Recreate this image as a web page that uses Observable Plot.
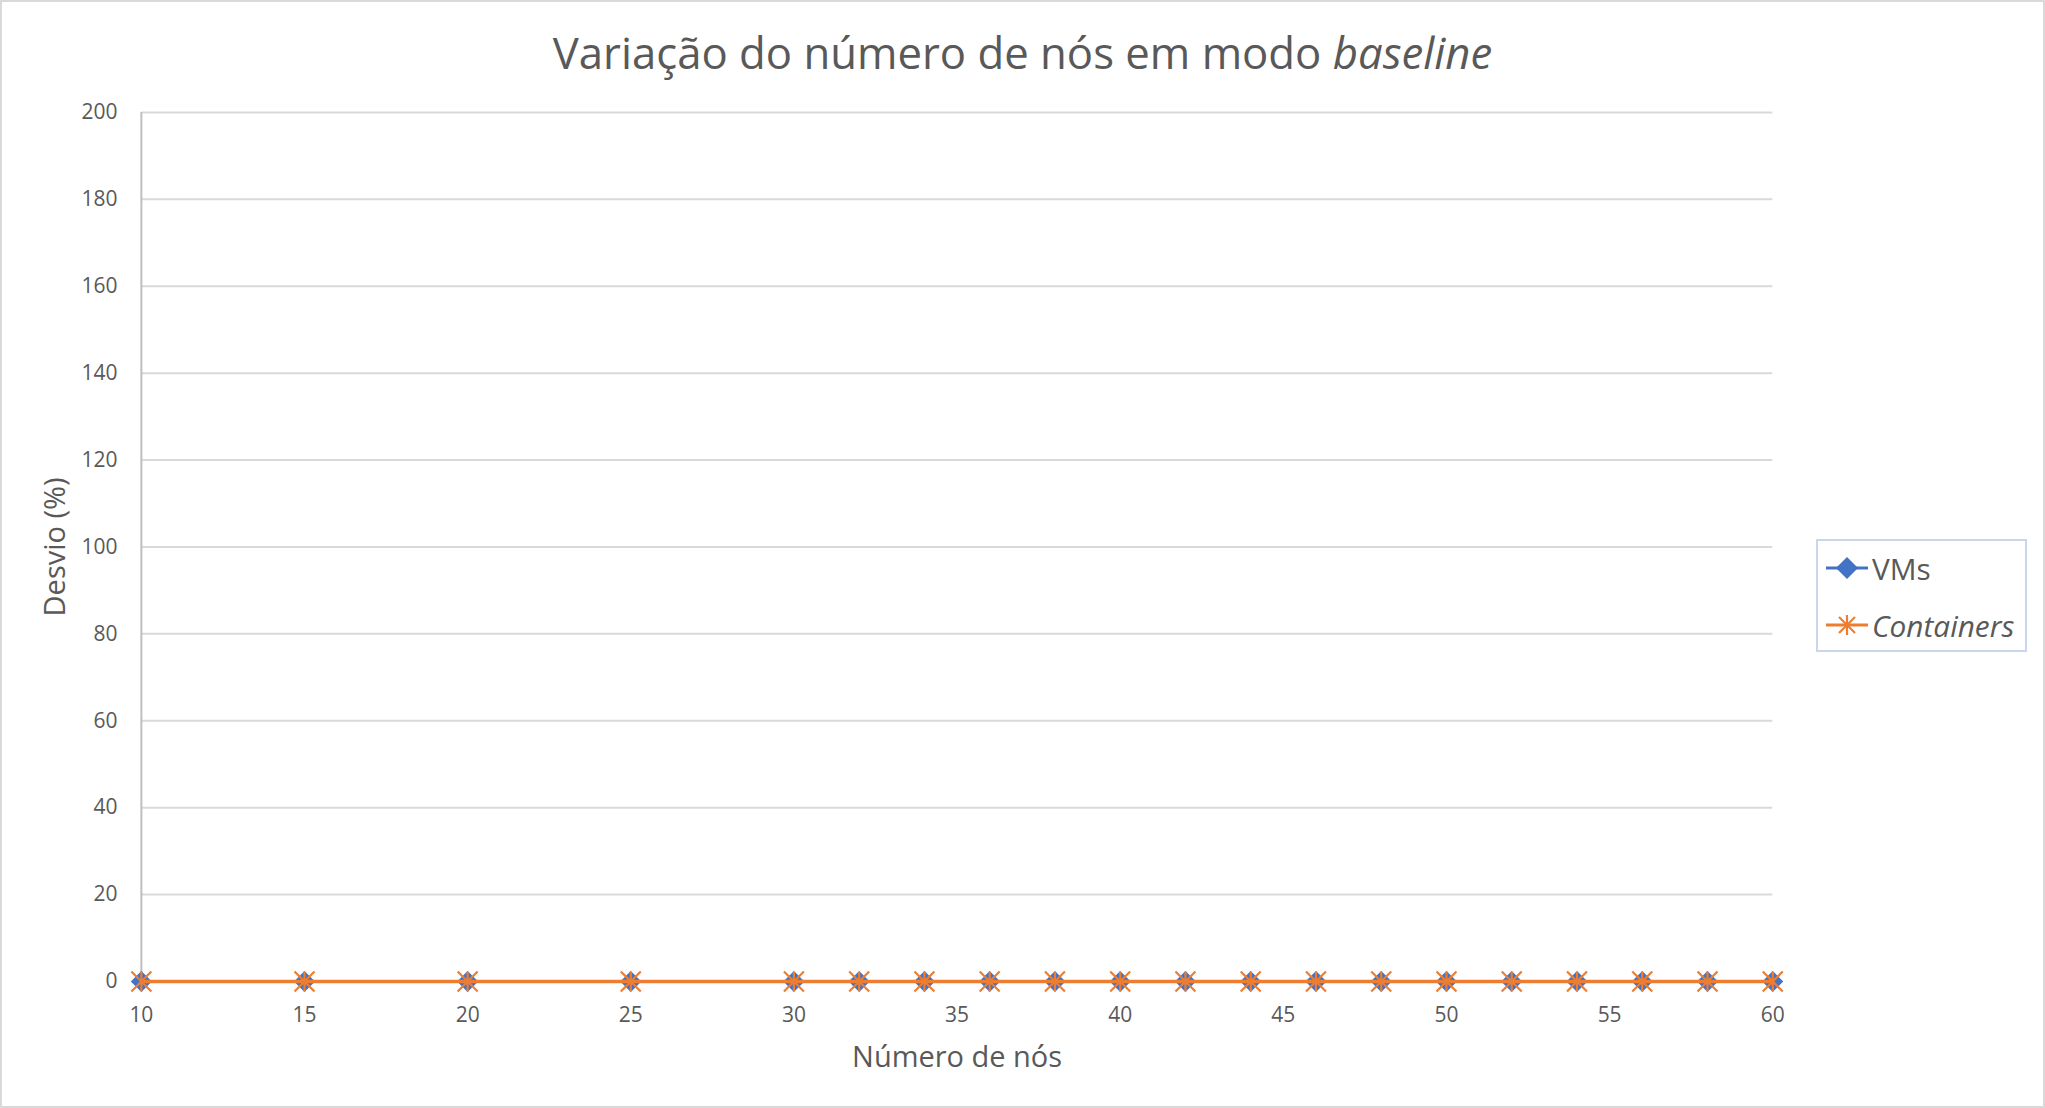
<!DOCTYPE html>
<html>
<head>
<meta charset="utf-8">
<script src="https://cdn.jsdelivr.net/npm/d3@7"></script>
<script src="https://cdn.jsdelivr.net/npm/@observablehq/plot@0.6"></script>
<style>
  html, body { margin: 0; padding: 0; background: #fff; }
  #chart { position: relative; width: 2045px; height: 1108px; box-sizing: border-box; border: 2px solid #d9d9d9; overflow: hidden; font-family: "Open Sans", sans-serif; color: #595959; }
  #plot { position: absolute; left: -2px; top: -2px; }
  #title { position: absolute; left: 0; width: 2041px; top: 20px; text-align: center; font-size: 43.7px; line-height: 60px; color: #595959; }
  #legend { position: absolute; left: 1814px; top: 537px; width: 211px; height: 113px; box-sizing: border-box; border: 2px solid #c9d6ec; }
  .item { position: absolute; left: 7px; height: 40px; display: flex; align-items: center; font-size: 29.8px; color: #595959; }
  .item svg { margin-right: 3px; }
</style>
</head>
<body>
<div id="chart">
  <div id="plot"></div>
  <div id="title">Variação do número de nós em modo <i>baseline</i></div>
  <div id="legend">
    <div class="item" style="top:7px"><svg width="44" height="30"><line x1="1" x2="43" y1="15" y2="15" stroke="#4472C4" stroke-width="3"/><path d="M22,4L33,15L22,26L11,15Z" fill="#4472C4"/></svg>VMs</div>
    <div class="item" style="top:64px"><svg width="44" height="30"><line x1="1" x2="43" y1="15" y2="15" stroke="#ED7D31" stroke-width="3"/><g stroke="#ED7D31" stroke-width="2.2"><line x1="22" x2="22" y1="5" y2="25"/><line x1="14" x2="30" y1="7" y2="23"/><line x1="14" x2="30" y1="23" y2="7"/></g></svg><i>Containers</i></div>
  </div>
</div>
<script>
const nodes = [10, 15, 20, 25, 30, 32, 34, 36, 38, 40, 42, 44, 46, 48, 50, 52, 54, 56, 58, 60];
const vms = [0, 0, 0, 0, 0, 0, 0, 0, 0, 0, 0, 0, 0, 0, 0, 0, 0, 0, 0, 0];
const containers = [0, 0, 0, 0, 0, 0, 0, 0, 0, 0, 0, 0, 0, 0, 0, 0, 0, 0, 0, 0];
const xTicks = [10, 15, 20, 25, 30, 35, 40, 45, 50, 55, 60];
const yTicks = [0, 20, 40, 60, 80, 100, 120, 140, 160, 180, 200];

const dataVM = nodes.map((n, i) => ({x: n, y: vms[i]}));
const dataCT = nodes.map((n, i) => ({x: n, y: containers[i]}));

// Excel-style star marker: an X plus a vertical bar
const excelStar = {
  draw(context, size) {
    const r = Math.sqrt(size / Math.PI);
    context.moveTo(0, -r); context.lineTo(0, r);
    context.moveTo(-r, -r); context.lineTo(r, r);
    context.moveTo(-r, r); context.lineTo(r, -r);
  }
};

const plot = Plot.plot({
  width: 2045,
  height: 1108,
  marginLeft: 141,
  marginRight: 271,
  marginTop: 112,
  marginBottom: 126,
  style: {fontFamily: "Open Sans", color: "#595959", background: "transparent"},
  x: {domain: [10, 60]},
  y: {domain: [0, 200]},
  marks: [
    Plot.gridY(yTicks, {stroke: "#d9d9d9", strokeOpacity: 1, strokeWidth: 2}),
    Plot.ruleX([10], {stroke: "#bfbfbf", strokeWidth: 2}),
    Plot.axisY(yTicks, {tickSize: 0, tickPadding: 24, fontSize: 21, fill: "#595959", label: null}),
    Plot.axisX(xTicks, {tickSize: 0, tickPadding: 26, fontSize: 21, fill: "#595959", label: null}),
    Plot.text(["Desvio (%)"], {frameAnchor: "left", textAnchor: "middle", lineAnchor: "middle", dx: -86, rotate: -90, fontSize: 29, fill: "#595959"}),
    Plot.text(["Número de nós"], {frameAnchor: "bottom", textAnchor: "middle", lineAnchor: "middle", dy: 76, fontSize: 29, fill: "#595959"}),
    Plot.line(dataVM, {x: "x", y: "y", stroke: "#4472C4", strokeWidth: 3}),
    Plot.dot(dataVM, {x: "x", y: "y", symbol: "diamond2", r: 9.5, fill: "#4472C4", stroke: "none"}),
    Plot.line(dataCT, {x: "x", y: "y", stroke: "#ED7D31", strokeWidth: 3.5}),
    Plot.dot(dataCT, {x: "x", y: "y", symbol: excelStar, r: 10, stroke: "#ED7D31", strokeWidth: 2.2, fill: "none"})
  ]
});
document.getElementById("plot").appendChild(plot);
</script>
</body>
</html>
